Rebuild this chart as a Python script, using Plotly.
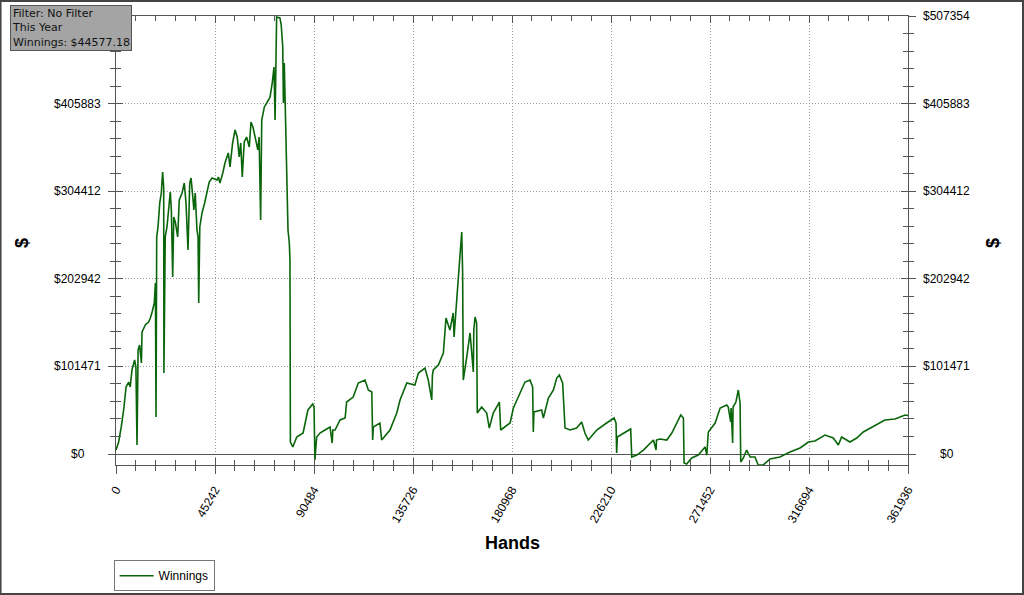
import plotly.graph_objects as go

hands = [0, 1200, 2400, 3500, 4600, 5800, 6500, 7300, 8500, 9100, 9600, 10100, 10800, 11600, 11900, 13400,
         14900, 15700, 16500, 17500, 18000, 18300, 18600, 19200, 20000, 20700, 21300, 21800, 21900, 22500,
         23300, 24100, 24800, 25300, 25900, 26400, 27100, 28200, 28900, 30200, 31200, 32000, 32900, 33700,
         34300, 35100, 35600, 36200, 37000, 37500, 37800, 38300, 39300, 40500, 41600, 42600, 43900, 46200,
         46800, 47500, 48800, 49800, 51300, 52100, 53300, 54400, 55400, 56300, 57000, 57700, 58600, 59700,
         60900, 61700, 62700, 64000, 64800, 65400, 66100, 66600, 67800, 68900, 70400, 71400, 72200, 72700,
         73100, 73400, 74900, 75500, 76200, 76500, 76900, 77700, 78300, 78600, 79200, 79500, 79700,
         80800, 82600, 85500, 87700, 89900, 90500, 90900, 91700, 93200,
         95500, 97800, 98800, 99100, 100100, 102400, 104700, 105400, 108400, 110700, 113800, 115300, 116900,
         117300, 117600, 120600, 121400, 125200, 128300, 129800, 132900, 136600, 138200, 141200, 142700,
         144300, 144600, 145000, 147300, 149600, 150800, 152600, 154100, 154500, 155700, 156900, 158000,
         158400, 158700, 160300, 161800, 163300, 163500, 164100, 164800, 165100, 167100, 169400, 170600,
         172400, 175200, 175800, 180100, 181600, 183900, 184600, 186900, 189200, 190400, 190700, 191000,
         194500, 195300, 197600, 199900, 201400, 202600, 204100, 205200, 207500, 210500, 212800, 214300,
         215800, 219700, 224200, 227600, 228500, 228800, 229100, 232600, 235200, 235700, 238000, 241000,
         245600, 246800, 247000, 248600, 251700, 254000, 256200, 258100, 259300, 259600, 260800, 263100,
         266100, 269200, 270000, 270700, 273800, 276100, 279100, 279800, 280900, 281100, 281800, 282000,
         283300, 284400, 285200, 285500, 286700, 288200, 289800, 292000, 293500, 295800, 298900, 303400,
         308000, 312600, 316400, 319400, 324000, 327800, 330100, 331600, 335400, 338500, 341500, 344600,
         348400, 351400, 356000, 360600, 361936]

winnings = [4600, 13900, 31300, 51000, 77600, 83400, 77600, 97300, 108900, 100800, 10400, 120500, 126300,
            105400, 141300, 149400, 152900, 157500, 164500, 174900, 198100, 42900, 251400, 263000, 290800,
            302300, 326700, 309300, 93800, 251400, 263000, 282600, 303500, 282600, 205000, 274500, 268700,
            251400, 294200, 302300, 313900, 290800, 236300, 313900, 319700, 297700, 282600, 302300, 259500,
            251400, 174900, 263000, 279200, 290800, 302300, 315100, 319700, 317400,
            320900, 313900, 325500, 337100, 348700, 332500, 360300, 375300, 367200, 344000, 360300, 320900,
            361400, 367200, 355600, 384600, 377600, 360300, 352200, 367200, 271100, 386900, 402000, 406600,
            413500, 429800, 448300, 386900, 452900, 506200, 505100, 497000, 471500, 406600, 452900, 360300,
            320900, 259500, 244400, 224700, 13900,
            8100, 19700, 24300, 51000, 57900, 54400, -7000, 19700, 24300, 27800, 31300, 12700,
            27800, 27800, 39400, 41700, 60200, 66000, 82200, 85700, 74100, 71800, 16200, 31300, 35900, 16200,
            27800, 47500, 62600, 82200, 79900, 93800, 99600, 85700, 62600, 91500, 97300, 103100, 117000,
            157500, 143600, 163300, 135500, 178400, 216600, 257200, 210800, 85700, 112400, 140200, 95000,
            143600, 158700, 151700, 47500, 54400, 47500, 30100, 47500, 60200, 27800, 35900, 53300, 66000,
            70700, 83400, 85700, 77600, 25500, 48700, 51000, 41700, 64900, 74100, 88000, 91500, 82200, 30100,
            27800, 30100, 37100, 24300, 16200, 27800, 35900, 41700, 35900, 1200, 19700, 25500, 29000, -3500,
            -1200, 4600, 16200, 4600, 16200, 17400, 16200, 24300, 35900, 45200, 41700, -10400, -11600, -4600,
            -1200, 8100, -1200, 25500, 35900, 53300, 56800, 54400, 37100, 53300, 12700, 54400, 60200, 74100,
            59100, -9300, -4600, 4600, -3500, -3500, -12700, -12700, -5800, -3500, 2300, 7000, 13900, 15100,
            22000, 18500, 10400, 19700, 13900, 18500, 25500, 30100, 35900, 39400, 40500, 45200, 44577]

x_ticks = [0, 45242, 90484, 135726, 180968, 226210, 271452, 316694, 361936]
y_ticks = [0, 101471, 202942, 304412, 405883, 507354]
y_tick_labels = ["$" + str(v) for v in y_ticks]
x_tick_labels = [str(v) for v in x_ticks]
info_lines = ["Filter: No Filter", "This Year", "Winnings: $44577.18"]

GREEN = "#0a650a"
AX = "#555555"
FONT = "Liberation Sans, Arial, sans-serif"

fig = go.Figure()
fig.add_trace(go.Scatter(x=hands, y=winnings, mode="lines", name="Winnings",
                         line=dict(color=GREEN, width=1.6), showlegend=True))
fig.add_trace(go.Scatter(x=hands[:1], y=winnings[:1], mode="markers", xaxis="x2", yaxis="y2",
                         marker=dict(opacity=0), showlegend=False, hoverinfo="skip"))

xr = [0, 361936]
yr = [-12740, 507354]

fig.update_layout(
    template="none",
    width=1024, height=595,
    margin=dict(l=116, r=116, t=16, b=130, autoexpand=False),
    paper_bgcolor="white", plot_bgcolor="white",
    font=dict(family=FONT, size=12, color="black"),
    xaxis=dict(range=xr, tickmode="array", tickvals=x_ticks, ticktext=x_tick_labels,
               tickangle=-60, ticks="outside", ticklen=8, tickcolor=AX, tickwidth=1,
               minor=dict(ticks="outside", ticklen=5, tick0=0, dtick=9048.4, tickcolor=AX, showgrid=False),
               showline=True, linecolor=AX, linewidth=1, mirror=True, automargin=False,
               showgrid=True, gridcolor="#9a9a9a", griddash="1px,2px", gridwidth=1,
               zeroline=False, ticklabelstandoff=4, tickfont=dict(size=12, family=FONT)),
    xaxis2=dict(range=xr, overlaying="x", tickmode="array", tickvals=x_ticks, showticklabels=False,
                ticks="inside", ticklen=7, tickcolor=AX, mirror="allticks", showline=False, automargin=False,
                minor=dict(ticks="inside", ticklen=5, tick0=0, dtick=9048.4, tickcolor=AX),
                showgrid=False, zeroline=False),
    yaxis=dict(range=yr, tickmode="array", tickvals=y_ticks, showticklabels=False,
               ticks="outside", ticklen=7, tickcolor=AX, automargin=False,
               minor=dict(ticks="outside", ticklen=5, tick0=0, dtick=20294.2, tickcolor=AX, showgrid=False),
               showline=True, linecolor=AX, linewidth=1, mirror="ticks",
               showgrid=True, gridcolor="#9a9a9a", griddash="1px,2px", gridwidth=1,
               zeroline=True, zerolinecolor=AX, zerolinewidth=1),
    yaxis2=dict(range=yr, overlaying="y", tickmode="array", tickvals=y_ticks, showticklabels=False,
                ticks="inside", ticklen=7, tickcolor=AX, mirror="allticks", showline=False, automargin=False,
                minor=dict(ticks="inside", ticklen=5, tick0=0, dtick=20294.2, tickcolor=AX),
                showgrid=False, zeroline=False),
    legend=dict(x=-0.003, y=-0.212, xanchor="left", yanchor="top", bgcolor="white",
                bordercolor="#777777", borderwidth=1, font=dict(size=12, family=FONT),
                itemwidth=34, tracegroupgap=0),
    showlegend=True,
    hovermode=False,
)

annotations = []
for v, lab in zip(y_ticks, y_tick_labels):
    sides = (1.0492,) if v == y_ticks[-1] else (-0.048, 1.0492)
    for xp in sides:
        annotations.append(dict(x=xp, y=v, xref="paper", yref="y", text=lab, showarrow=False,
                                xanchor="center", yanchor="middle",
                                font=dict(size=12, family=FONT, color="black")))
annotations.append(dict(x=0.5, y=-0.1737, xref="paper", yref="paper", text="<b>Hands</b>",
                        showarrow=False, xanchor="center", yanchor="middle",
                        font=dict(size=18, family=FONT, color="black")))
for xp in (-0.1187, 1.1073):
    annotations.append(dict(x=xp, y=0.4944, xref="paper", yref="paper", text="<b>$</b>",
                            showarrow=False, xanchor="center", yanchor="middle", textangle=-90,
                            font=dict(size=18, family=FONT, color="black")))
annotations.append(dict(x=-0.1338, y=1.0245, xref="paper", yref="paper",
                        text="<br>".join(info_lines), showarrow=False, align="left",
                        xanchor="left", yanchor="top", bgcolor="#a4a4a4", bordercolor="#555555",
                        borderwidth=1, borderpad=1,
                        font=dict(size=11, family="DejaVu Sans, Verdana, sans-serif", color="#111111")))
fig.update_layout(annotations=annotations)

fig.add_shape(type="rect", xref="paper", yref="paper", x0=-0.1458, x1=1.1452, y0=-0.2873, y1=1.0334,
              line=dict(color="#444444", width=2), fillcolor="rgba(0,0,0,0)", layer="above")

fig.write_html("out.html", config={"displayModeBar": False},
               post_script="document.body.style.margin='0px';")
